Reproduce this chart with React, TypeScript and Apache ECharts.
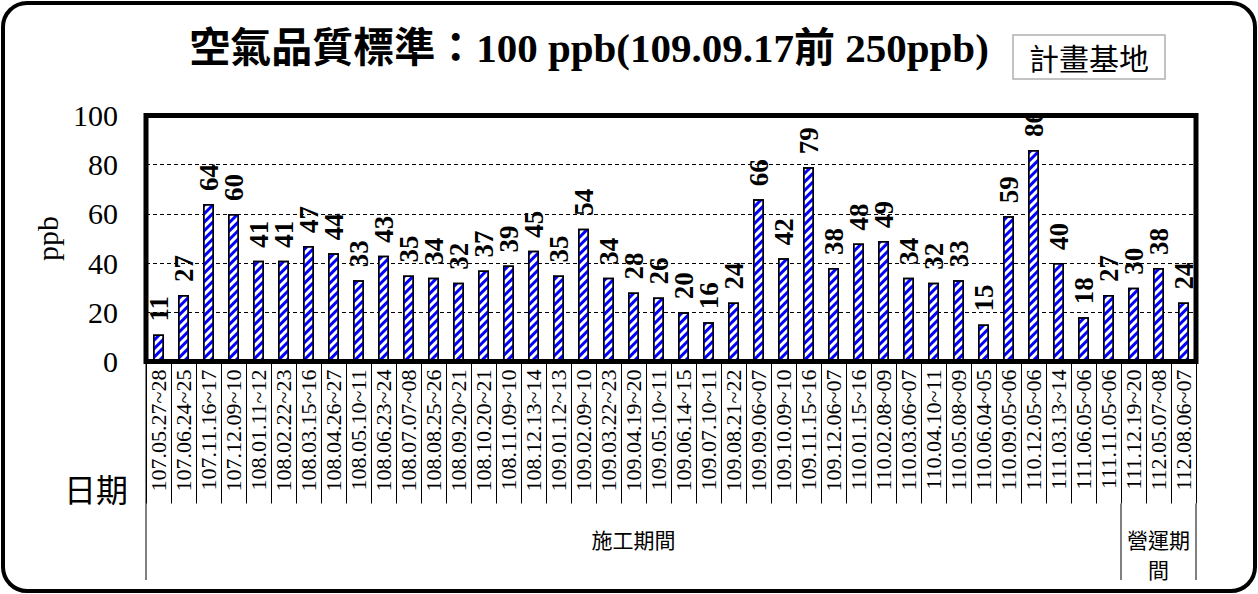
import React, { useEffect, useRef } from 'react';
import * as echarts from 'echarts';

const categories: string[] = [
  '107.05.27~28', '107.06.24~25', '107.11.16~17', '107.12.09~10',
  '108.01.11~12', '108.02.22~23', '108.03.15~16', '108.04.26~27',
  '108.05.10~11', '108.06.23~24', '108.07.07~08', '108.08.25~26',
  '108.09.20~21', '108.10.20~21', '108.11.09~10', '108.12.13~14',
  '109.01.12~13', '109.02.09~10', '109.03.22~23', '109.04.19~20',
  '109.05.10~11', '109.06.14~15', '109.07.10~11', '109.08.21~22',
  '109.09.06~07', '109.10.09~10', '109.11.15~16', '109.12.06~07',
  '110.01.15~16', '110.02.08~09', '110.03.06~07', '110.04.10~11',
  '110.05.08~09', '110.06.04~05', '110.09.05~06', '110.12.05~06',
  '111.03.13~14', '111.06.05~06', '111.11.05~06', '111.12.19~20',
  '112.05.07~08', '112.08.06~07',
];

const values: number[] = [
  11, 27, 64, 60, 41, 41, 47, 44, 33, 43, 35, 34, 32, 37, 39, 45,
  35, 54, 34, 28, 26, 20, 16, 24, 66, 42, 79, 38, 48, 49, 34, 32,
  33, 15, 59, 86, 40, 18, 27, 30, 38, 24,
];

const groupNames: string[] = ['施工期間', '營運期\n間'];
const groupSizes: number[] = [39, 3];

const yMin = 0;
const yMax = 100;
const yInterval = 20;

const titleText = '空氣品質標準：100 ppb(109.09.17前 250ppb)';
const siteText = '計畫基地';
const yName = 'ppb';
const xName = '日期';

const SERIF = '"Liberation Serif", "Times New Roman", "Noto Sans CJK TC", serif';
const CJK = '"Noto Sans CJK TC", "Noto Sans CJK SC", sans-serif';

const GRID = { left: 146, top: 115.5, width: 1050, height: 246 };
const TICK_LEN = 142;
const GROUP_BOTTOM = 580;

export default function App() {
  const ref = useRef<HTMLDivElement>(null);

  useEffect(() => {
    if (!ref.current) return;
    const chart = echarts.init(ref.current, undefined, { renderer: 'svg' });

    const option: any = {
      animation: false,
      backgroundColor: '#ffffff',
      grid: {
        left: GRID.left,
        top: GRID.top,
        width: GRID.width,
        height: GRID.height,
        containLabel: false,
        show: false,
      },
      xAxis: {
        type: 'category',
        data: categories,
        boundaryGap: true,
        axisLine: { show: true, lineStyle: { color: '#000', width: 1 } },
        axisTick: {
          show: true,
          interval: 0,
          length: TICK_LEN,
          lineStyle: { color: '#000', width: 1 },
        },
        axisLabel: {
          interval: 0,
          rotate: 90,
          margin: 8,
          color: '#000',
          fontFamily: SERIF,
          fontSize: 22,
        },
        splitLine: { show: false },
      },
      yAxis: {
        type: 'value',
        min: yMin,
        max: yMax,
        interval: yInterval,
        name: yName,
        nameLocation: 'middle',
        nameGap: 70,
        nameTextStyle: { color: '#000', fontFamily: SERIF, fontSize: 30 },
        axisLine: { show: false },
        axisTick: { show: false },
        axisLabel: {
          margin: 28,
          color: '#000',
          fontFamily: SERIF,
          fontSize: 30,
        },
        splitLine: {
          show: true,
          lineStyle: { color: '#000', width: 1, type: [4, 3] },
        },
      },
      series: [
        {
          type: 'bar',
          data: values,
          barWidth: 11,
          itemStyle: {
            color: '#ffffff',
            borderColor: '#000',
            borderWidth: 1.5,
            decal: {
              symbol: 'rect',
              symbolSize: 1,
              color: '#0000ff',
              dashArrayX: [1, 0],
              dashArrayY: [3, 3],
              rotation: -Math.PI / 4,
            },
          },
          label: {
            show: true,
            position: 'top',
            rotate: 90,
            align: 'left',
            verticalAlign: 'middle',
            distance: 13,
            color: '#000',
            fontFamily: SERIF,
            fontWeight: 'bold',
            fontSize: 27,
          },
        },
      ],
    };

    chart.setOption(option);

    const band =
      (chart.convertToPixel({ xAxisIndex: 0 }, 1) as number) -
      (chart.convertToPixel({ xAxisIndex: 0 }, 0) as number);
    const axisY = chart.convertToPixel({ yAxisIndex: 0 }, yMin) as number;
    const topY = chart.convertToPixel({ yAxisIndex: 0 }, yMax) as number;
    const leftX = (chart.convertToPixel({ xAxisIndex: 0 }, 0) as number) - band / 2;
    const rightX =
      (chart.convertToPixel({ xAxisIndex: 0 }, categories.length - 1) as number) + band / 2;
    const tickBottom = axisY + TICK_LEN;

    const elements: any[] = [
      {
        type: 'rect',
        shape: { x: 3, y: 3, width: 1252, height: 588, r: 24 },
        style: { fill: 'none', stroke: '#000', lineWidth: 4 },
        z: 200,
      },
      {
        // hides label parts that spill above the plot area (clipped in the original)
        type: 'rect',
        shape: { x: leftX, y: 88, width: rightX - leftX, height: topY - 88 },
        style: { fill: '#fff' },
        z: 140,
      },
      {
        type: 'rect',
        shape: { x: leftX, y: topY, width: rightX - leftX, height: axisY - topY },
        style: { fill: 'none', stroke: '#000', lineWidth: 5 },
        z: 150,
      },
      {
        type: 'text',
        x: 589,
        y: 48,
        style: {
          text: titleText,
          fill: '#000',
          font: `bold 41px ${SERIF}`,
          align: 'center',
          verticalAlign: 'middle',
        },
      },
      {
        type: 'rect',
        shape: { x: 1013, y: 35, width: 152, height: 44 },
        style: { fill: '#fff', stroke: '#b0b0b0', lineWidth: 1.5 },
      },
      {
        type: 'text',
        x: 1089,
        y: 57,
        style: {
          text: siteText,
          fill: '#000',
          font: `30px ${CJK}`,
          align: 'center',
          verticalAlign: 'middle',
        },
      },
      {
        type: 'text',
        x: 96,
        y: 488,
        style: {
          text: xName,
          fill: '#000',
          font: `32px ${CJK}`,
          align: 'center',
          verticalAlign: 'middle',
        },
      },
      {
        type: 'line',
        shape: { x1: leftX, y1: axisY, x2: leftX, y2: GROUP_BOTTOM },
        style: { stroke: '#000', lineWidth: 1 },
      },
    ];

    let start = 0;
    groupSizes.forEach((n, gi) => {
      const x0 = (chart.convertToPixel({ xAxisIndex: 0 }, start) as number) - band / 2;
      const x1 = (chart.convertToPixel({ xAxisIndex: 0 }, start + n - 1) as number) + band / 2;
      elements.push({
        type: 'line',
        shape: { x1: x1, y1: tickBottom, x2: x1, y2: GROUP_BOTTOM },
        style: { stroke: '#000', lineWidth: 1 },
      });
      elements.push({
        type: 'text',
        x: (x0 + x1) / 2,
        y: tickBottom + 20,
        style: {
          text: groupNames[gi],
          fill: '#000',
          font: `21px ${CJK}`,
          lineHeight: 30,
          align: 'center',
          verticalAlign: 'top',
        },
      });
      start += n;
    });

    chart.setOption({ graphic: { elements } });

    return () => chart.dispose();
  }, []);

  return (
    <div
      ref={ref}
      style={{ position: 'fixed', left: 0, top: 0, width: 1258, height: 594 }}
    />
  );
}
